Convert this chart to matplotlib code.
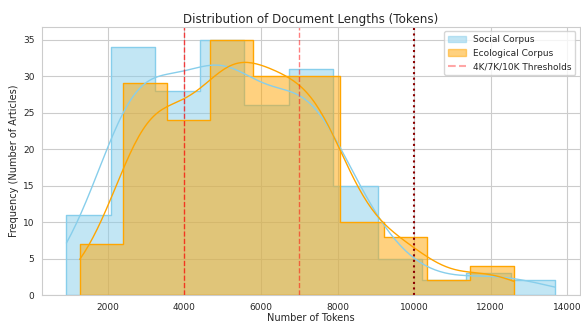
#!/usr/bin/env python3

import numpy as np
import matplotlib
matplotlib.use("Agg")
import matplotlib.pyplot as plt
import seaborn as sns
from matplotlib.patches import Patch
from matplotlib.lines import Line2D

# histogram bins (token counts)
social_edges = np.linspace(923, 13688, 12)
social_counts = [11, 34, 28, 35, 26, 31, 15, 5, 2, 3, 2]

eco_edges = np.linspace(1270, 12600, 11)
eco_counts = [7, 29, 24, 35, 30, 30, 10, 8, 2, 4]

thresholds = [4000, 7000, 10000]


def expand(edges, counts):
    # one token length per article, placed at the bin centre
    centres = (edges[:-1] + edges[1:]) / 2
    return np.repeat(centres, counts)


sns.set_style("whitegrid")
fig = plt.figure(figsize=(5.81, 3.25), dpi=100)
ax = fig.add_axes([0.0723, 0.0923, 0.9257, 0.8247])

for edges, counts, color in [
    (social_edges, social_counts, "skyblue"),
    (eco_edges, eco_counts, "orange"),
]:
    sns.histplot(
        x=expand(edges, counts),
        bins=edges,
        kde=True,
        kde_kws=dict(cut=3, clip=(edges[0], edges[-1])),
        line_kws=dict(linewidth=1),
        element="step",
        color=color,
        alpha=0.5,
        ax=ax,
    )

# threshold lines
ax.axvline(thresholds[0], color="red", linestyle="--", linewidth=1, alpha=0.7)
ax.axvline(thresholds[1], color="red", linestyle="--", linewidth=1, alpha=0.5)
ax.axvline(thresholds[2], color="darkred", linestyle=":", linewidth=1.5)

handles = [
    Patch(facecolor="skyblue", edgecolor="skyblue", alpha=0.5),
    Patch(facecolor="orange", edgecolor="orange", alpha=0.5),
    Line2D([0], [0], color="red", linestyle="--", alpha=0.35),
]
labels = ["Social Corpus", "Ecological Corpus", "4K/7K/10K Thresholds"]
ax.legend(handles, labels, loc="upper right", fontsize=6.5)

ax.set_title("Distribution of Document Lengths (Tokens)", fontsize=8.6, pad=3)
ax.set_xlabel("Number of Tokens", fontsize=7, labelpad=1)
ax.set_ylabel("Frequency (Number of Articles)", fontsize=7, labelpad=3)
ax.tick_params(labelsize=6.5, pad=2)

fig.savefig("out.png", dpi=100)
